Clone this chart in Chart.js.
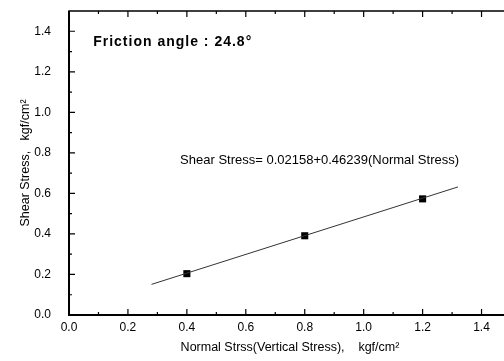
<!DOCTYPE html>
<html>
<head>
<meta charset="utf-8">
<script src="https://cdn.jsdelivr.net/npm/chart.js@4"></script>
<style>
    html, body { margin: 0; padding: 0; background: #fff; overflow: hidden; }
    canvas { display: block; }
</style>
</head>
<body>
<canvas id="shearChart" width="520" height="361"></canvas>
<script>
// measured points (normal stress vs shear stress, kgf/cm2)
const normalStress = [0.4, 0.8, 1.2];
const shearStress = [0.204, 0.391, 0.573];

// least-squares fit, drawn over this normal stress range
const fitIntercept = 0.02158;
const fitSlope = 0.46239;
const fitRange = [0.28, 1.32];

const frictionText = 'Friction angle : 24.8°';
const equationText = 'Shear Stress= 0.02158+0.46239(Normal Stress)';

const fitLine = fitRange.map(x => ({ x: x, y: fitIntercept + fitSlope * x }));

// box around the plot with inward major/minor ticks, plus the two notes
const framePlugin = {
    id: 'frame',
    afterDraw(chart) {
        const ctx = chart.ctx;
        const area = chart.chartArea;
        const xs = chart.scales.x;
        const ys = chart.scales.y;
        ctx.save();
        ctx.strokeStyle = '#000';
        ctx.lineWidth = 1.5;
        ctx.strokeRect(area.left, area.top, area.right - area.left, area.bottom - area.top);
        ctx.lineWidth = 2;
        ctx.beginPath();
        ctx.moveTo(area.left, area.top);
        ctx.lineTo(area.left, area.bottom);
        ctx.lineTo(area.right, area.bottom);
        ctx.stroke();

        ctx.lineWidth = 1.2;
        ctx.beginPath();
        for (let i = 1; i < 15; i++) {
            const len = i % 2 === 0 ? 6 : 3;
            const px = xs.getPixelForValue(i / 10);
            ctx.moveTo(px, area.bottom); ctx.lineTo(px, area.bottom - len);
            ctx.moveTo(px, area.top); ctx.lineTo(px, area.top + len);
            const py = ys.getPixelForValue(i / 10);
            ctx.moveTo(area.left, py); ctx.lineTo(area.left + len, py);
            ctx.moveTo(area.right, py); ctx.lineTo(area.right - len, py);
        }
        ctx.stroke();

        ctx.fillStyle = '#000';
        ctx.textBaseline = 'middle';
        ctx.textAlign = 'left';
        ctx.font = 'bold 14px "Liberation Sans", Arial, sans-serif';
        ctx.letterSpacing = '1px';
        ctx.fillText(frictionText, xs.getPixelForValue(0.082), ys.getPixelForValue(1.348));
        ctx.letterSpacing = '0px';
        ctx.font = '13px "Liberation Sans", Arial, sans-serif';
        ctx.fillText(equationText, xs.getPixelForValue(0.377), ys.getPixelForValue(0.765));
        ctx.restore();
    }
};

const tickFont = { family: '"Liberation Sans", Arial, sans-serif', size: 12 };
const titleFont = { family: '"Liberation Sans", Arial, sans-serif', size: 12.5 };

new Chart(document.getElementById('shearChart'), {
    type: 'scatter',
    data: {
        datasets: [{
            label: 'Linear fit',
            data: fitLine,
            showLine: true,
            borderColor: '#333',
            borderWidth: 1,
            pointRadius: 0
        }, {
            label: 'Measured',
            data: normalStress.map((x, i) => ({ x: x, y: shearStress[i] })),
            pointStyle: 'rect',
            pointRadius: 5,
            backgroundColor: '#000',
            borderColor: '#000',
            borderWidth: 0
        }]
    },
    options: {
        responsive: false,
        animation: false,
        layout: { padding: { top: 11, right: 9, left: 0, bottom: 0 } },
        plugins: {
            legend: { display: false },
            tooltip: { enabled: false }
        },
        scales: {
            x: {
                type: 'linear',
                min: 0,
                max: 1.5,
                grid: { display: false, drawTicks: false },
                border: { display: false },
                ticks: {
                    stepSize: 0.2,
                    includeBounds: false,
                    padding: 5,
                    color: '#000',
                    font: tickFont,
                    maxRotation: 0,
                    callback: v => v.toFixed(1)
                },
                title: {
                    display: true,
                    text: 'Normal Strss(Vertical Stress),    kgf/cm²',
                    color: '#000',
                    font: titleFont,
                    padding: { top: 0, bottom: 6 }
                },
                afterFit: scale => {
                    scale.height = 46;
                    scale.paddingLeft = 0;
                    scale.paddingRight = 0;
                }
            },
            y: {
                type: 'linear',
                min: 0,
                max: 1.5,
                grid: { display: false, drawTicks: false },
                border: { display: false },
                ticks: {
                    stepSize: 0.2,
                    includeBounds: false,
                    padding: 18,
                    color: '#000',
                    font: tickFont,
                    callback: v => v.toFixed(1)
                },
                title: {
                    display: true,
                    text: 'Shear Stress,   kgf/cm²',
                    color: '#000',
                    font: titleFont,
                    padding: { top: 18, bottom: 0 }
                },
                afterFit: scale => {
                    scale.width = 69;
                    scale.paddingTop = 0;
                    scale.paddingBottom = 0;
                }
            }
        }
    },
    plugins: [framePlugin]
});
</script>
</body>
</html>
